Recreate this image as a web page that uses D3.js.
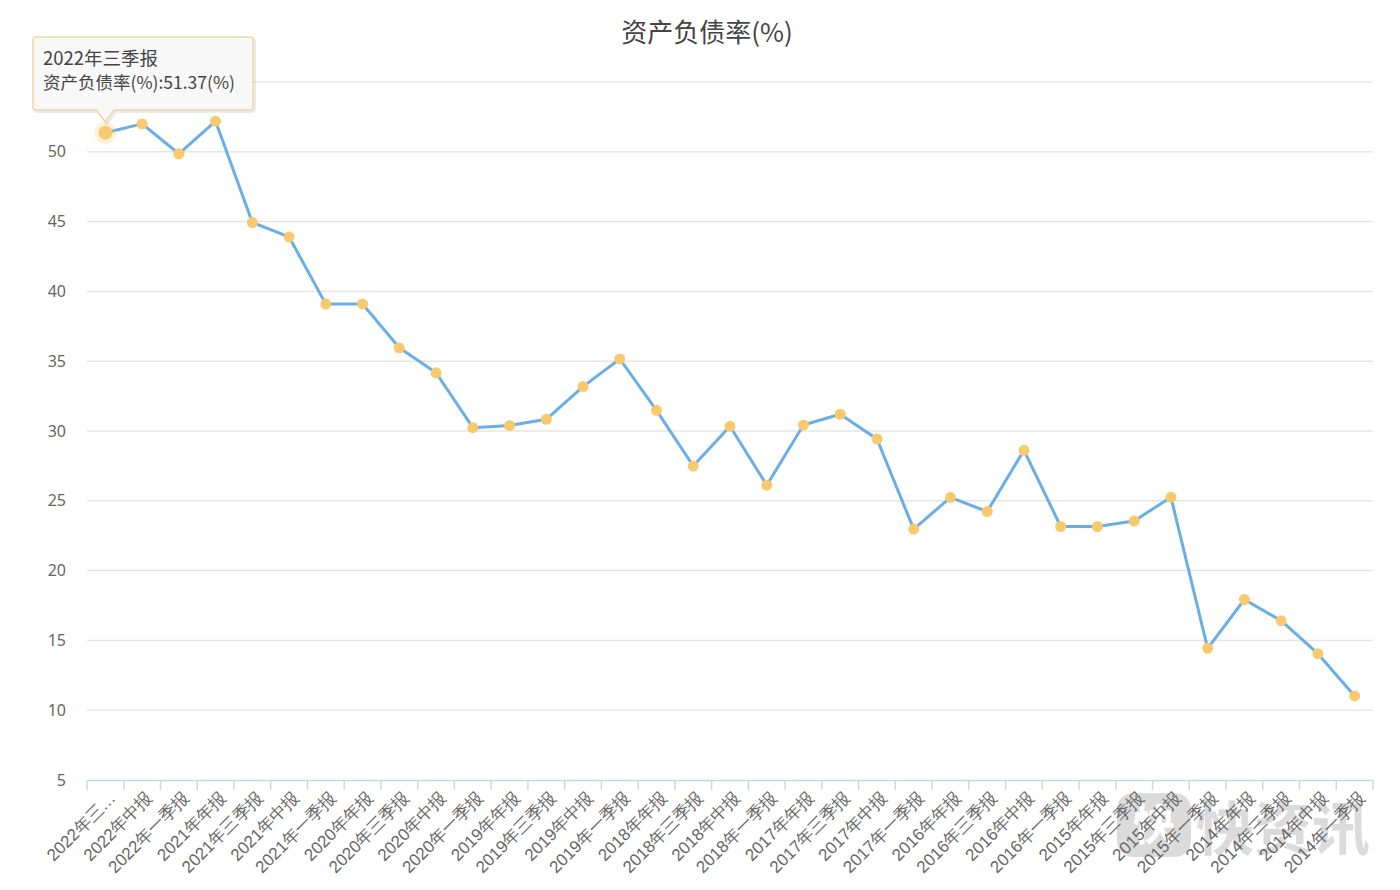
<!DOCTYPE html>
<html><head><meta charset="utf-8">
<script src="https://cdn.jsdelivr.net/npm/d3@7"></script>
<style>
html,body{margin:0;padding:0;background:#fff;}
svg{display:block;font-family:"Noto Sans CJK SC","Noto Sans",sans-serif;}
</style></head>
<body><svg id="c" width="1400" height="890"></svg>
<script>
const title = "资产负债率(%)";
const seriesName = "资产负债率(%)";
const categories = ["2022年三季报","2022年中报","2022年一季报","2021年年报","2021年三季报","2021年中报","2021年一季报","2020年年报","2020年三季报","2020年中报","2020年一季报","2019年年报","2019年三季报","2019年中报","2019年一季报","2018年年报","2018年三季报","2018年中报","2018年一季报","2017年年报","2017年三季报","2017年中报","2017年一季报","2016年年报","2016年三季报","2016年中报","2016年一季报","2015年年报","2015年三季报","2015年中报","2015年一季报","2014年年报","2014年三季报","2014年中报","2014年一季报"];
const values = [51.37,52.0,49.86,52.19,44.93,43.9,39.09,39.1,35.96,34.17,30.24,30.39,30.84,33.18,35.16,31.48,27.49,30.34,26.12,30.43,31.2,29.43,22.97,25.24,24.23,28.62,23.16,23.16,23.55,25.26,14.43,17.93,16.41,14.05,11.02];
const yTicks = [5,10,15,20,25,30,35,40,45,50,55];
const hoverIndex = 0;

const svg = d3.select("#c");
const pL = 87, pR = 1373, pT = 82, pB = 780;

const x = d3.scaleBand().domain(categories).range([pL, pR]).paddingInner(0).paddingOuter(0);
const y = d3.scaleLinear().domain([5, 55]).range([pB, pT]);

// title
svg.append("text").attr("x", 707).attr("y", 42).attr("text-anchor", "middle")
  .attr("font-size", 26).attr("fill", "#444").text(title);

// grid
svg.append("g").selectAll("line").data(yTicks.filter(d => d > 5)).join("line")
  .attr("x1", pL).attr("x2", pR)
  .attr("y1", d => y(d)).attr("y2", d => y(d))
  .attr("stroke", "#e6e6e6").attr("stroke-width", 1.5);

// y axis labels
const yAxis = d3.axisLeft(y).tickValues(yTicks.filter(d => d < 55)).tickSize(0).tickPadding(21);
const gy = svg.append("g").attr("transform", `translate(${pL},0)`).call(yAxis);
gy.select(".domain").remove();
gy.selectAll("text").attr("font-size", 16).attr("fill", "#666").attr("font-family", "'Noto Sans', sans-serif");

// watermark
const wm = svg.append("g").attr("opacity", 0.3);
wm.append("rect").attr("x", 1117).attr("y", 793).attr("width", 74).attr("height", 64).attr("rx", 16).attr("fill", "#8a8a8a");
wm.append("text").attr("x", 1154).attr("y", 840).attr("text-anchor", "middle").attr("font-size", 42).attr("font-weight", "bold").attr("fill", "#fff").text("快");
wm.append("text").attr("x", 1196).attr("y", 850).attr("font-size", 58).attr("font-weight", "bold").attr("fill", "#8a8a8a").text("快资讯");

// x axis
const xAxis = d3.axisBottom(x).tickSize(0).tickFormat((d, i) => i === 0 ? "2022年三…" : d);
const gx = svg.append("g").attr("transform", `translate(0,${pB})`).call(xAxis);
gx.select(".domain").attr("stroke", "#ccd6eb").attr("stroke-width", 1.5);
gx.selectAll(".tick line").remove();
gx.selectAll(".tick text")
  .attr("font-size", 17).attr("fill", "#666")
  .attr("text-anchor", "end")
  .attr("transform", "translate(7,15) rotate(-45)")
  .attr("dy", "0.35em").attr("y", 0).attr("x", 0);
// category boundary ticks
const bounds = categories.map(c => x(c)).concat([pR]);
svg.append("g").selectAll("line").data(bounds).join("line")
  .attr("x1", d => d).attr("x2", d => d)
  .attr("y1", pB).attr("y2", pB + 10)
  .attr("stroke", "#ccd6eb").attr("stroke-width", 1.5);

// line
const cx = (d, i) => x(categories[i]) + x.bandwidth() / 2;
const line = d3.line().x((d, i) => cx(d, i)).y(d => y(d));
svg.append("path").datum(values).attr("d", line)
  .attr("fill", "none").attr("stroke", "#6aaee8").attr("stroke-width", 3)
  .attr("stroke-linejoin", "round");

// halo for hovered
svg.append("circle").attr("cx", cx(values[hoverIndex], hoverIndex)).attr("cy", y(values[hoverIndex]))
  .attr("r", 11).attr("fill", "#f9c96d").attr("opacity", 0.25);

svg.append("g").selectAll("circle").data(values).join("circle")
  .attr("cx", (d, i) => cx(d, i)).attr("cy", d => y(d))
  .attr("r", (d, i) => i === hoverIndex ? 7 : 5.5)
  .attr("fill", "#f9c96d");

// tooltip
const px = cx(values[hoverIndex], hoverIndex), py = y(values[hoverIndex]);
const tx0 = 33, tx1 = 253, ty0 = 37, ty1 = 110;
const tip = svg.append("g");
const tipPath = `M${tx0 + 3},${ty0} H${tx1 - 3} Q${tx1},${ty0} ${tx1},${ty0 + 3} V${ty1 - 3} Q${tx1},${ty1} ${tx1 - 3},${ty1} H${px + 9} L${px},${py - 11} L${px - 9},${ty1} H${tx0 + 3} Q${tx0},${ty1} ${tx0},${ty1 - 3} V${ty0 + 3} Q${tx0},${ty0} ${tx0 + 3},${ty0} Z`;
tip.append("path").attr("d", tipPath).attr("transform", "translate(1.5,1.5)")
  .attr("fill", "none").attr("stroke", "#000").attr("stroke-opacity", 0.08).attr("stroke-width", 3);
tip.append("path").attr("d", tipPath)
  .attr("fill", "#f8f8f8").attr("fill-opacity", 0.95).attr("stroke", "#efd6a6").attr("stroke-width", 1.5);
tip.append("text").attr("x", 43).attr("y", 65).attr("font-size", 18.5).attr("fill", "#444").text(categories[hoverIndex]);
tip.append("text").attr("x", 43).attr("y", 89).attr("font-size", 17.5).attr("fill", "#444")
  .text(`${seriesName}:${values[hoverIndex].toFixed(2)}(%)`);
</script></body></html>
